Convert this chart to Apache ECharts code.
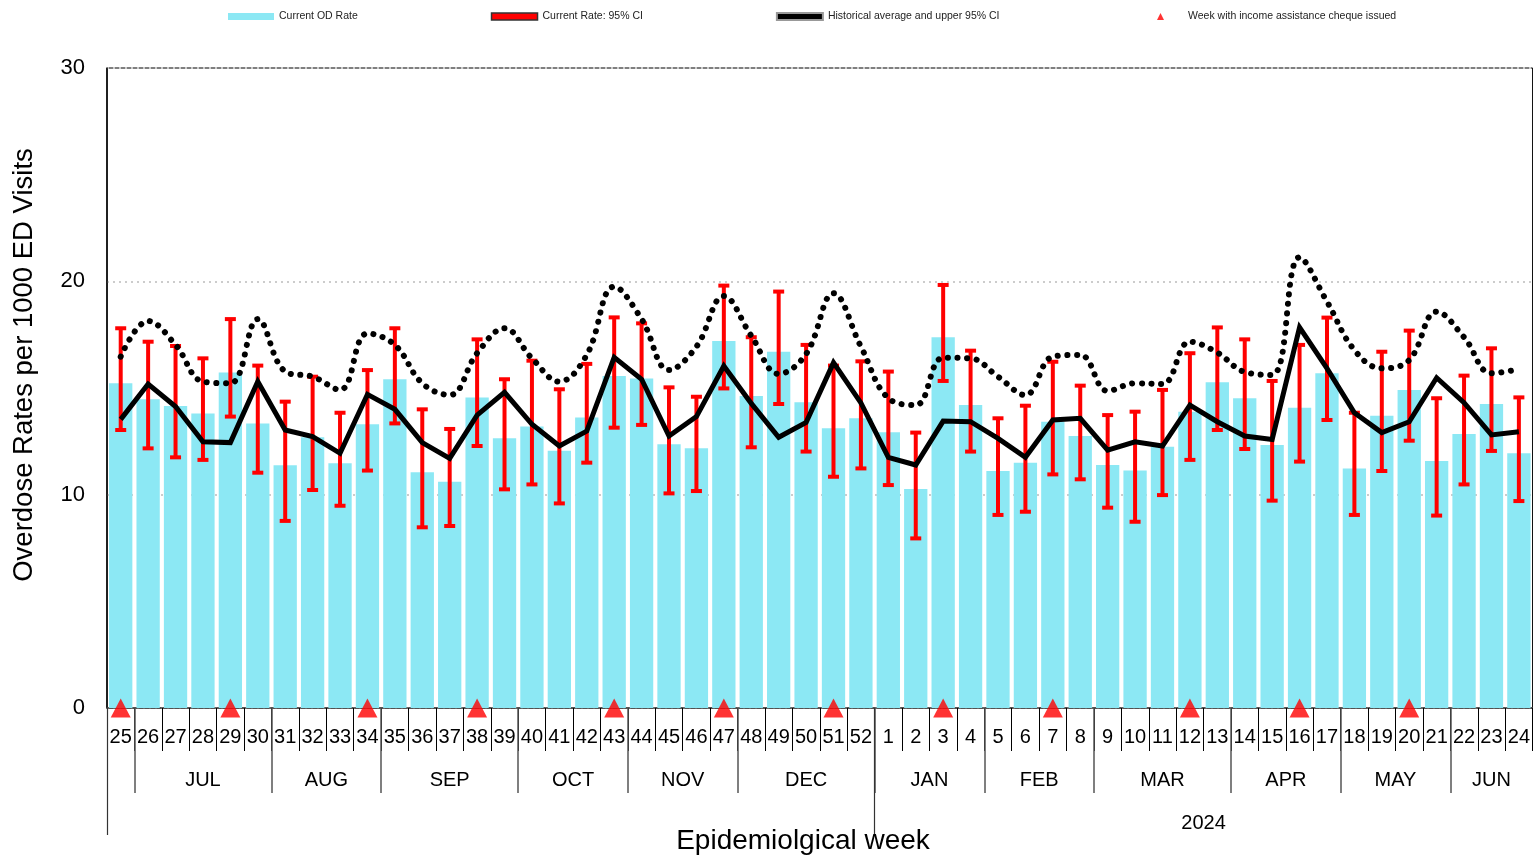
<!DOCTYPE html>
<html>
<head>
<meta charset="utf-8">
<script src="https://cdn.jsdelivr.net/npm/echarts@6/dist/echarts.min.js"></script>
<style>
html,body{margin:0;padding:0;background:#fff;}
#chart{width:1533px;height:856px;}
</style>
</head>
<body>
<div id="chart"></div>
<script>
// ---- Data ----
const weeks = [25,26,27,28,29,30,31,32,33,34,35,36,37,38,39,40,41,42,43,44,45,46,47,48,49,50,51,52,1,2,3,4,5,6,7,8,9,10,11,12,13,14,15,16,17,18,19,20,21,22,23,24];
const currentRate = [15.22,14.47,14.16,13.81,15.73,13.34,11.38,12.69,11.47,13.30,15.41,11.05,10.61,14.56,12.64,13.19,12.06,13.62,15.56,15.45,12.36,12.17,17.20,14.63,16.70,14.33,13.11,13.58,12.92,10.27,17.38,14.20,11.11,11.50,13.42,12.75,11.39,11.13,12.25,13.89,15.27,14.52,12.33,14.08,15.69,11.23,13.70,14.91,11.58,12.84,14.25,11.94];
const ciLow = [13.03,12.17,11.75,11.63,13.66,11.03,8.77,10.22,9.48,11.13,13.34,8.47,8.53,12.28,10.25,10.48,9.59,11.50,13.14,13.27,10.06,10.17,14.98,12.22,14.25,12.02,10.84,11.23,10.45,7.95,15.33,12.02,9.05,9.20,10.95,10.72,9.39,8.73,9.98,11.63,13.03,12.14,9.72,11.55,13.50,9.05,11.11,12.53,9.02,10.48,12.05,9.70];
const ciHigh = [17.80,17.17,16.97,16.39,18.23,16.05,14.36,15.53,13.84,15.84,17.80,14.00,13.08,17.28,15.41,16.28,14.94,16.13,18.31,18.03,15.03,14.59,19.80,17.38,19.52,17.02,16.05,16.25,15.77,12.91,19.83,16.75,13.58,14.17,16.23,15.11,13.73,13.89,14.91,16.63,17.84,17.28,15.33,17.02,18.30,13.84,16.70,17.69,14.52,15.58,16.86,14.56];
const histAvg = [13.53,15.19,14.13,12.48,12.44,15.30,13.03,12.72,11.94,14.70,14.00,12.44,11.70,13.73,14.80,13.30,12.28,12.98,16.44,15.41,12.75,13.66,16.03,14.28,12.69,13.38,16.19,14.30,11.75,11.39,13.45,13.42,12.64,11.75,13.50,13.58,12.09,12.48,12.28,14.20,13.42,12.75,12.59,17.84,15.92,13.84,12.91,13.42,15.48,14.31,12.80,12.95];
const histUpper = [16.47,18.14,17.02,15.30,15.22,18.23,15.77,15.53,14.91,17.56,17.02,15.22,14.67,16.63,17.80,16.39,15.30,16.55,19.75,18.23,15.84,16.94,19.31,17.45,15.66,16.59,19.44,16.94,14.52,14.20,16.42,16.39,15.53,14.67,16.47,16.55,14.86,15.22,15.19,17.17,16.66,15.75,15.61,21.13,19.05,16.78,15.92,16.31,18.58,17.38,15.69,15.88];
const chequeWeeks = [25,29,34,38,43,47,51,3,7,12,16,20];
const monthNames = ['JUL','AUG','SEP','OCT','NOV','DEC','JAN','FEB','MAR','APR','MAY','JUN'];
const monthStart = [1,6,10,15,19,23,28,32,36,41,45,49];
const monthEnd   = [6,10,15,19,23,28,32,36,41,45,49,52];
const yearLabel = '2024';
const yearStart = 28;

// ---- Build ----
const FONT = 'Liberation Sans, Arial, sans-serif';
const weekLabels = weeks.map(String);
const ciData = weeks.map((w,i)=>[i, ciLow[i], ciHigh[i]]);
const chequeData = chequeWeeks.map(w => [weeks.indexOf(w), 0]);
const monthMid = monthStart.map((s,i)=>(s+monthEnd[i])/2);
const yearMid = (yearStart + weeks.length)/2;

const chart = echarts.init(document.getElementById('chart'), null, {renderer:'canvas'});
const option = {
  animation: false,
  backgroundColor: '#fff',
  textStyle: {fontFamily: FONT},
  grid: {left:107, right:0, top:68, bottom:148, show:true, borderColor:'#000', borderWidth:1, backgroundColor:'transparent'},
  legend: [
    {
      left: 228, top: 11, padding: 0, itemWidth: 46, itemHeight: 7, itemGap: 133,
      textStyle: {fontSize: 10.5, color:'#222', fontFamily: FONT},
      data: [
        {name:'Current OD Rate', icon:'rect'},
        {name:'Current Rate: 95% CI', icon:'rect', itemStyle:{color:'#ff0000', borderColor:'#333', borderWidth:1.5}},
        {name:'Historical average and upper 95% CI', icon:'rect', itemStyle:{color:'#000', borderColor:'#999', borderWidth:2}}
      ]
    },
    {
      left: 1157, top: 11, padding: 0, itemWidth: 7, itemHeight: 7, icon:'triangle',
      textStyle: {fontSize: 10.5, color:'#222', fontFamily: FONT, padding:[0,0,0,19]},
      data: ['Week with income assistance cheque issued']
    }
  ],
  xAxis: [
    {
      type:'category', data: weekLabels, boundaryGap:true,
      axisLine:{show:true, lineStyle:{color:'#444', width:1.5}},
      axisTick:{show:true, interval:0, length:43, lineStyle:{color:'#000', width:1}},
      axisLabel:{interval:0, fontSize:20, margin:19, color:'#000', fontFamily: FONT},
      splitLine:{show:false}
    },
    {
      type:'value', min:0, max:weeks.length, position:'bottom',
      axisLine:{show:false},
      axisTick:{show:true, customValues: monthStart, length:85, lineStyle:{color:'#555', width:1.5}},
      axisLabel:{show:true, customValues: monthMid, margin:62, fontSize:20, color:'#000', fontFamily: FONT,
        formatter: v => monthNames[monthMid.indexOf(v)] || ''},
      splitLine:{show:false}
    },
    {
      type:'value', min:0, max:weeks.length, position:'bottom',
      axisLine:{show:false},
      axisTick:{show:true, customValues:[0, yearStart], length:127, lineStyle:{color:'#333', width:1.2}},
      axisLabel:{show:true, customValues:[yearMid], margin:105, fontSize:20, color:'#000', fontFamily: FONT,
        formatter: () => yearLabel},
      splitLine:{show:false}
    }
  ],
  yAxis: {
    type:'value', min:0, max:30, interval:10,
    axisLine:{show:true, lineStyle:{color:'#000', width:1.5}},
    axisTick:{show:false},
    axisLabel:{fontSize:22, margin:22, color:'#000', fontFamily: FONT},
    splitLine:{show:true, lineStyle:{color:'#cccccc', width:2, type:[2,4]}}
  },
  graphic: [
    {type:'text', x:24, y:365, rotation:Math.PI/2, z:10,
     style:{text:'Overdose Rates per 1000 ED Visits', font:'27.5px '+FONT, fill:'#000', textAlign:'center', textVerticalAlign:'middle'}},
    {type:'text', x:803, y:841, z:10,
     style:{text:'Epidemiolgical week', font:'28px '+FONT, fill:'#000', textAlign:'center', textVerticalAlign:'middle'}}
  ],
  series: [
    {
      name:'Current OD Rate', type:'bar', data: currentRate, barCategoryGap:'15%',
      itemStyle:{color:'#8ce8f4'}, z:2
    },
    {
      name:'Current Rate: 95% CI', type:'custom', data: ciData, z:3,
      itemStyle:{color:'#ff0000'},
      renderItem: function(params, api){
        const x = api.value(0);
        const lo = api.coord([x, api.value(1)]);
        const hi = api.coord([x, api.value(2)]);
        const hw = 5.5;
        const st = {stroke:'#ff0000', lineWidth:4};
        return {type:'group', children:[
          {type:'line', shape:{x1:lo[0], y1:lo[1], x2:hi[0], y2:hi[1]}, style:st},
          {type:'line', shape:{x1:lo[0]-hw, y1:lo[1], x2:lo[0]+hw, y2:lo[1]}, style:st},
          {type:'line', shape:{x1:hi[0]-hw, y1:hi[1], x2:hi[0]+hw, y2:hi[1]}, style:st}
        ]};
      }
    },
    {
      name:'Historical average and upper 95% CI', type:'line', data: histAvg, symbol:'none', z:4,
      lineStyle:{color:'#000', width:5, join:'miter'}, itemStyle:{color:'#000'}
    },
    {
      name:'Historical average and upper 95% CI', type:'line', data: histUpper, symbol:'none', smooth:0.4, z:4,
      lineStyle:{color:'#000', width:6, type:[0.1, 9.5], cap:'round'}, itemStyle:{color:'#000'}
    },
    {
      name:'Week with income assistance cheque issued', type:'scatter', data: chequeData, z:6,
      symbol:'triangle', symbolSize:[20,19], itemStyle:{color:'#ff0000'}, clip:false
    }
  ]
};
chart.setOption(option);
</script>
</body>
</html>
